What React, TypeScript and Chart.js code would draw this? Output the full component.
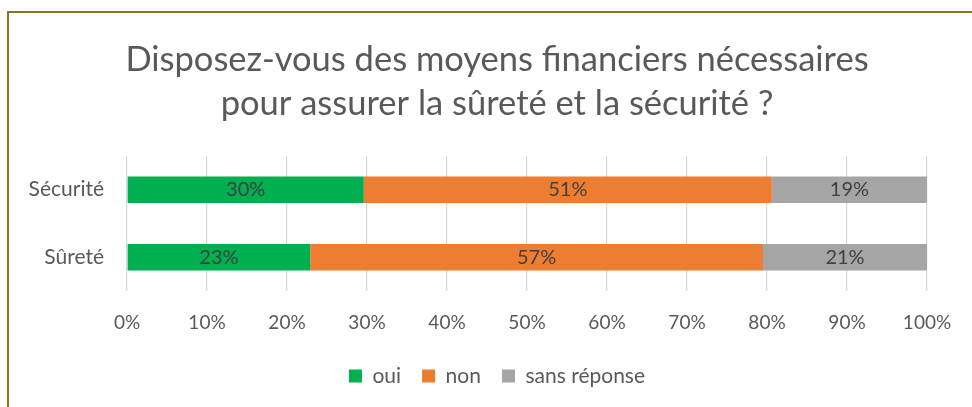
import React, { useEffect, useRef } from "react";
import { Chart, registerables } from "chart.js";

Chart.register(...registerables);

const categories = ["Sécurité", "Sûreté"];
const seriesNames = ["oui", "non", "sans réponse"];
const ouiValues = [29.6, 22.9];
const nonValues = [51.0, 56.6];
const sansReponseValues = [19.4, 20.5];
const seriesColors = ["#00B050", "#ED7D31", "#A5A5A5"];
const xTicks = [0, 10, 20, 30, 40, 50, 60, 70, 80, 90, 100];
const titleLines = [
  "Disposez-vous des moyens financiers nécessaires",
  "pour assurer la sûreté et la sécurité ?",
];

const FONT = "Lato";
const CENTER_SHIFT = 33.5;

const dataLabelPlugin = {
  id: "dataLabels",
  afterDatasetsDraw(chart: any) {
    const ctx = chart.ctx;
    ctx.save();
    ctx.font = `20px ${FONT}`;
    ctx.fillStyle = "#404040";
    ctx.textAlign = "center";
    ctx.textBaseline = "middle";
    chart.data.datasets.forEach((ds: any, di: number) => {
      const meta = chart.getDatasetMeta(di);
      meta.data.forEach((el: any, i: number) => {
        const v = ds.data[i];
        const cx = (el.x + el.base) / 2;
        ctx.fillText(Math.round(v) + "%", cx, el.y);
      });
    });
    ctx.restore();
  },
};

const shiftPlugin = {
  id: "shiftTitleLegend",
  afterLayout(chart: any) {
    [chart.titleBlock, chart.legend].forEach((box: any) => {
      if (!box) return;
      box.left += CENTER_SHIFT;
      box.right += CENTER_SHIFT;
    });
  },
};

export default function App() {
  const ref = useRef<HTMLCanvasElement>(null);
  useEffect(() => {
    if (!ref.current) return;
    const values = [ouiValues, nonValues, sansReponseValues];
    const chart = new Chart(ref.current, {
      type: "bar",
      data: {
        labels: categories,
        datasets: seriesNames.map((name, i) => ({
          label: name,
          data: values[i],
          backgroundColor: seriesColors[i],
          borderWidth: 0,
          barPercentage: 0.39,
          categoryPercentage: 1,
        })),
      },
      options: {
        indexAxis: "y",
        responsive: false,
        animation: false,
        layout: { padding: { top: 38, left: 0, right: 45, bottom: 10.5 } },
        scales: {
          x: {
            stacked: true,
            min: 0,
            max: 100,
            afterBuildTicks: (scale: any) => {
              scale.ticks = xTicks.map((v) => ({ value: v }));
            },
            afterFit: (scale: any) => {
              scale.height = 53.5;
            },
            ticks: {
              callback: (v: any) => v + "%",
              color: "#595959",
              font: { family: FONT, size: 19 },
              padding: 20,
              maxRotation: 0,
            },
            grid: { color: "#d9d9d9", lineWidth: 1.3, drawTicks: false },
            border: { display: false },
          },
          y: {
            stacked: true,
            afterFit: (scale: any) => {
              scale.width = 127;
            },
            ticks: {
              color: "#595959",
              font: { family: FONT, size: 21 },
              padding: 23,
            },
            grid: { display: false, drawTicks: false },
            border: { display: false },
          },
        },
        plugins: {
          title: {
            display: true,
            text: titleLines,
            color: "#595959",
            font: { family: FONT, size: 34.5, weight: "normal", lineHeight: 1.275 },
            padding: { top: 0, bottom: 30 },
          },
          legend: {
            position: "bottom",
            labels: {
              boxWidth: 13,
              boxHeight: 13,
              padding: 21,
              color: "#595959",
              font: { family: FONT, size: 21 },
            },
          },
          tooltip: { enabled: false },
        },
      },
      plugins: [dataLabelPlugin, shiftPlugin],
    } as any);
    return () => chart.destroy();
  }, []);

  return (
    <div
      style={{
        position: "fixed",
        left: 0,
        top: 0,
        width: 972,
        height: 407,
        background: "#ffffff",
        overflow: "hidden",
      }}
    >
      <div
        style={{
          position: "absolute",
          left: 7,
          top: 11,
          width: 1000,
          height: 500,
          borderLeft: "2px solid #8a7423",
          borderTop: "2px solid #8a7423",
        }}
      />
      <canvas
        ref={ref}
        width={972}
        height={407}
        style={{ position: "absolute", left: 0, top: 0 }}
      />
    </div>
  );
}
